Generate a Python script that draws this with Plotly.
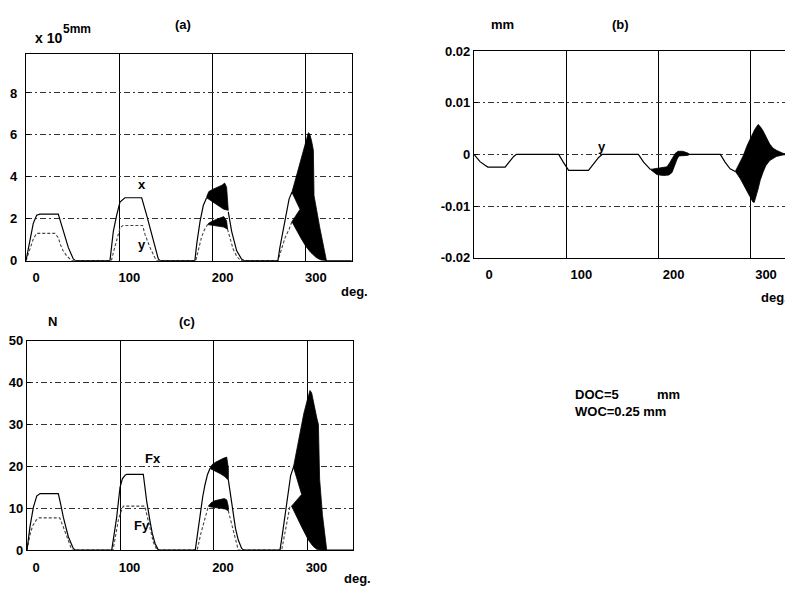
import plotly.graph_objects as go

W, H = 793, 594
PAGE_PAD = 8  # default body margin of the html page

# ---------------- Panel (a): displacement (x 10^-5 mm) ----------------
A_X_DEG = [0, 4.3, 7.8, 11.4, 15, 34.6, 40, 45.4, 50.7, 53,
           90, 93.6, 97.2, 100.7, 106, 124, 129.3, 136.4, 141.8, 144,
           181, 183, 186.5, 190, 193.6, None, 216.8, 220.4, 225.8, 231, 234,
           270, 272, 275.8, 279.4, 282, 285, None, 321, 349]
A_X_VAL = [0, 1.08, 1.78, 2.17, 2.22, 2.22, 1.4, 0.62, 0.08, 0,
           0, 1.4, 2.17, 2.79, 3.0, 3.0, 2.17, 0.93, 0.08, 0,
           0, 0.8, 1.86, 2.63, 3.0, None, 2.33, 1.4, 0.47, 0.08, 0,
           0, 0.6, 1.55, 2.48, 2.95, 3.26, None, 0, 0]
A_Y_DEG = [0, 4.3, 8, 11.4, 31, 34.6, 37, 40, 43.6, 48.9,
           91.5, 94, 97, 100.7, 104, 125, 127.6, 133, 138, 140,
           182, 185, 188, 191, 195, None, 216, 219, 222, 226, 230,
           270, 274, 277.7, 282, 285]
A_Y_VAL = [0, 0.62, 1.05, 1.3, 1.3, 1.1, 0.75, 0.45, 0.23, 0,
           0, 0.45, 0.93, 1.55, 1.68, 1.68, 1.24, 0.62, 0.15, 0,
           0, 0.6, 1.1, 1.45, 1.75, None, 1.5, 1.0, 0.55, 0.2, 0,
           0, 0.6, 1.1, 1.5, 1.86]
# chatter envelopes (outline of the filled black regions)
A_BAND3_X_DEG = [193.6, 196, 200, 205, 210, 213, 215, 216.8, 212, 207, 202, 197, 193.6]
A_BAND3_X_VAL = [3.05, 3.3, 3.4, 3.5, 3.6, 3.7, 3.5, 2.4, 2.45, 2.6, 2.75, 2.92, 3.0]
A_BAND3_Y_DEG = [195, 197, 203, 208, 212, 215, 216, 212, 205, 199, 195]
A_BAND3_Y_VAL = [1.75, 1.82, 1.95, 2.05, 2.1, 1.9, 1.5, 1.6, 1.66, 1.7, 1.72]
A_BURST4_DEG = [285, 289, 293, 297, 300, 302.6, 304, 306, 308, 308.7, 315, 320.6, 322,
                316, 311, 305, 300, 295, 290, 285, 293.7, 285]
A_BURST4_VAL = [3.26, 3.9, 4.6, 5.2, 5.7, 6.1, 6.05, 5.73, 5.27, 3.1, 1.55, 0.15, 0,
                0.03, 0.15, 0.4, 0.68, 1.05, 1.45, 1.86, 2.45, 3.26]
A_YTICKS = [0, 2, 4, 6, 8]

# ---------------- Panel (b): y displacement (mm) ----------------
B_DEG = [0, 6.5, 12, 15, 33.7, 39, 43, 46,
         91.7, 96.7, 99.5, 102.5, 124, 131, 135, 139,
         178, 183.7, 191, None, 234,
         266.8, 271.9, 277.4, 283, None, 342, 347]
B_VAL = [0, -0.0014, -0.0021, -0.00245, -0.00245, -0.0012, -0.0004, 0,
         0, -0.0015, -0.0024, -0.0031, -0.0031, -0.0015, -0.0006, 0,
         0, -0.0015, -0.0029, None, 0,
         0, -0.0015, -0.0028, -0.0033, None, 0, 0]
B_BAND3_DEG = [191, 198, 204, 209, 212, 215, 218, 221, 226, 231, 234,
               231, 226, 222, 220, 217, 214.5, 211, 205, 198, 193, 191]
B_BAND3_VAL = [-0.0029, -0.0027, -0.0026, -0.0024, -0.0016, -0.0008, 0.0002, 0.0006, 0.0006, 0.0003, 0,
               -0.0002, -0.0003, -0.0003, -0.0009, -0.0022, -0.0035, -0.004, -0.0041, -0.0039, -0.0033, -0.0029]
B_BURST4_DEG = [283, 287, 291.5, 296, 300.5, 304, 307.7, 310, 313, 316, 320.3, 324, 327.5, 334.7, 342,
                334.7, 327.5, 320.3, 316, 313, 310, 307.7, 305.5, 303.5, 302, 299, 295.6, 292, 288.4, 285, 283]
B_BURST4_VAL = [-0.0033, -0.0018, -0.0003, 0.0018, 0.0036, 0.0048, 0.0058, 0.0054, 0.0046, 0.0034, 0.002, 0.0012, 0.0008, 0.0002, 0,
                -0.0001, -0.0004, -0.0012, -0.0022, -0.0035, -0.005, -0.0067, -0.008, -0.0093, -0.0092, -0.0082, -0.007, -0.0058, -0.0047, -0.0038, -0.0033]
B_YTICKS = [0.02, 0.01, 0, -0.01, -0.02]
B_YTICKTEXT = ["0.02", "0.01", "0", "-0.01", "-0.02"]

# ---------------- Panel (c): cutting forces (N) ----------------
C_FX_DEG = [0, 3.2, 6.8, 10.4, 14, 33.5, 36, 38.9, 44.2, 49.5, 52,
            90.6, 93, 95.9, 99.5, 102, 105, 106.6, 124.4, 128, 131.5, 134, 137, 140.5,
            180, 182.5, 185, 188, 190.4, 193, 195.7, None, 215.4, 218, 220.7, 223, 226, 229.6, 232,
            270.6, 273, 276, 279.5, 282, 285, None, 320.6, 349]
C_FX_VAL = [0, 5.6, 10.2, 12.9, 13.5, 13.5, 11, 7.8, 3.2, 0.4, 0,
            0, 3.5, 7.8, 15.0, 17.0, 17.9, 18.1, 18.1, 11.7, 7.0, 4.0, 1.6, 0,
            0, 4.3, 8.6, 12.8, 15.6, 18, 19.5, None, 16.7, 12.5, 8.6, 5.2, 2.4, 0.4, 0,
            0, 3.5, 8.6, 14.8, 17.8, 19.8, None, 0, 0]
C_FY_DEG = [0, 3, 6, 10, 13, 35, 38, 42, 45, 48,
            92, 95, 98, 101, 103, 126, 129, 132, 135, 139,
            182, 186, 190, 194, None, 215.3, 218, 220.7, 223, 226,
            272.4, 275, 277.7, 281.3, 283]
C_FY_VAL = [0, 3.5, 5.8, 7.2, 7.7, 7.7, 6, 3.5, 1.5, 0,
            0, 4, 7.5, 9.4, 10.5, 10.5, 7.5, 4.5, 2, 0,
            0, 4, 7.5, 10.5, None, 9.4, 7, 4.7, 2.5, 0,
            0, 3, 6.3, 10.5, 10.5]
C_BAND3_FX_DEG = [195.7, 198, 202, 206, 210, 213.6, 215.4, 215.4, 211.8, 207, 202, 198, 195.7]
C_BAND3_FX_VAL = [19.5, 20.4, 21, 21.5, 21.9, 22.2, 19.5, 16.7, 17.5, 18.2, 18.8, 19.2, 19.5]
C_BAND3_FY_DEG = [194, 197, 201, 206, 211, 213.6, 215.3, 215.3, 212, 207, 201, 197, 194]
C_BAND3_FY_VAL = [10.5, 11.3, 11.8, 12.1, 12.3, 12.0, 10.5, 9.4, 9.8, 10.0, 10.1, 10.3, 10.5]
C_BURST4_DEG = [285, 288, 292, 296, 300, 302.7, 304.5, 307, 310, 311.7, 312.5, 313, 316, 320.6,
                316, 310, 306, 301, 295, 290, 285, 283, 293.8, 285]
C_BURST4_VAL = [19.8, 23.5, 28.5, 32.5, 36, 38.1, 37.5, 34.5, 31.5, 30, 22, 17, 8.5, 0,
                0.05, 0.2, 0.9, 2.4, 5.0, 7.3, 9.4, 10.5, 13.3, 19.8]
C_YTICKS = [0, 10, 20, 30, 40, 50]

X_TICKS = [0, 100, 200, 300]

FONT = dict(family="Liberation Sans, Arial, sans-serif", size=13, color="black", weight="bold")


def px(x):
    return (x - PAGE_PAD) / W


def py(y):
    return 1 - (y - PAGE_PAD) / H


fig = go.Figure()


def line(xs, ys, ax, color="black", dash="solid", width=1.2):
    fig.add_trace(go.Scatter(x=xs, y=ys, mode="lines", xaxis=ax[0], yaxis=ax[1],
                             line=dict(color=color, width=width, dash=dash),
                             connectgaps=False, hoverinfo="skip"))


def blob(xs, ys, ax):
    fig.add_trace(go.Scatter(x=xs, y=ys, mode="lines", xaxis=ax[0], yaxis=ax[1],
                             fill="toself", fillcolor="black",
                             line=dict(color="black", width=0.8), hoverinfo="skip"))


AX_A = ("x", "y")
AX_B = ("x2", "y2")
AX_C = ("x3", "y3")

# panel a
line(A_Y_DEG, A_Y_VAL, AX_A, color="#444", dash="3px,2px", width=1.1)
line(A_X_DEG, A_X_VAL, AX_A)
blob(A_BAND3_X_DEG, A_BAND3_X_VAL, AX_A)
blob(A_BAND3_Y_DEG, A_BAND3_Y_VAL, AX_A)
blob(A_BURST4_DEG, A_BURST4_VAL, AX_A)
# panel b
line(B_DEG, B_VAL, AX_B)
blob(B_BAND3_DEG, B_BAND3_VAL, AX_B)
blob(B_BURST4_DEG, B_BURST4_VAL, AX_B)
# panel c
line(C_FY_DEG, C_FY_VAL, AX_C, color="#444", dash="3px,2px", width=1.1)
line(C_FX_DEG, C_FX_VAL, AX_C)
blob(C_BAND3_FX_DEG, C_BAND3_FX_VAL, AX_C)
blob(C_BAND3_FY_DEG, C_BAND3_FY_VAL, AX_C)
blob(C_BURST4_DEG, C_BURST4_VAL, AX_C)


def xax(domain, rng, shift, standoff):
    return dict(domain=domain, range=rng, tickvals=X_TICKS, ticks="inside", ticklen=4,
                tickcolor="black", showline=True, linecolor="black", linewidth=1.2,
                mirror=True, showgrid=True, gridcolor="black", gridwidth=1,
                zeroline=False, tickfont=FONT, ticklabelshift=shift,
                ticklabelstandoff=standoff, fixedrange=True)


def yax(domain, rng, tickvals, ticktext=None, standoff=2, anchor="x"):
    d = dict(domain=domain, range=rng, tickvals=tickvals, ticks="inside", ticklen=4,
             tickcolor="black", showline=True, linecolor="black", linewidth=1.2,
             mirror=True, showgrid=True, gridcolor="#333", gridwidth=1,
             griddash="6px,3px,2px,3px", zeroline=False, tickfont=FONT,
             ticklabelstandoff=standoff, anchor=anchor, fixedrange=True)
    if ticktext is not None:
        d["ticktext"] = ticktext
    return d


fig.update_layout(
    width=W, height=H, margin=dict(l=0, r=0, t=0, b=0),
    paper_bgcolor="white", plot_bgcolor="white", showlegend=False,
    font=FONT,
    xaxis=dict(**xax([px(26), px(352)], [0, 349.4], 10, 5), anchor="y"),
    yaxis=yax([py(260), py(48)], [0, 9.86], A_YTICKS, standoff=5, anchor="x"),
    xaxis2=dict(**xax([px(474), px(793)], [0, 345.5], 15, 5), anchor="y2"),
    yaxis2=yax([py(257), py(45)], [-0.02, 0.02], B_YTICKS, B_YTICKTEXT, standoff=0, anchor="x2"),
    xaxis3=dict(**xax([px(27), px(353)], [0, 348.7], 9, 5), anchor="y3"),
    yaxis3=yax([py(557), py(342)], [0, 50], C_YTICKS, standoff=0, anchor="x3"),
)


def note(text, x, y, xanchor="center", size=13):
    f = dict(FONT)
    f["size"] = size
    fig.add_annotation(text=text, x=px(x), y=py(y), xref="paper", yref="paper",
                       xanchor=xanchor, yanchor="middle", showarrow=False, font=f)


note("x 10", 33, 32, xanchor="left", size=14)
note("5mm", 61, 22, xanchor="left", size=12)
note("(a)", 183, 18)
note("x", 142, 182)
note("y", 142, 243)
note("deg.", 354, 292)
note("mm", 502, 18)
note("(b)", 620, 18)
note("y", 602, 143)
note("deg.", 774, 298)
note("N", 52, 322)
note("(c)", 187, 322)
note("Fx", 153, 463)
note("Fy", 142, 532)
note("deg.", 357, 586)
note("DOC=5", 573, 397, xanchor="left", size=13)
note("mm", 655, 397, xanchor="left", size=13)
note("WOC=0.25 mm", 573, 415, xanchor="left", size=13)

fig.write_html("out.html")
